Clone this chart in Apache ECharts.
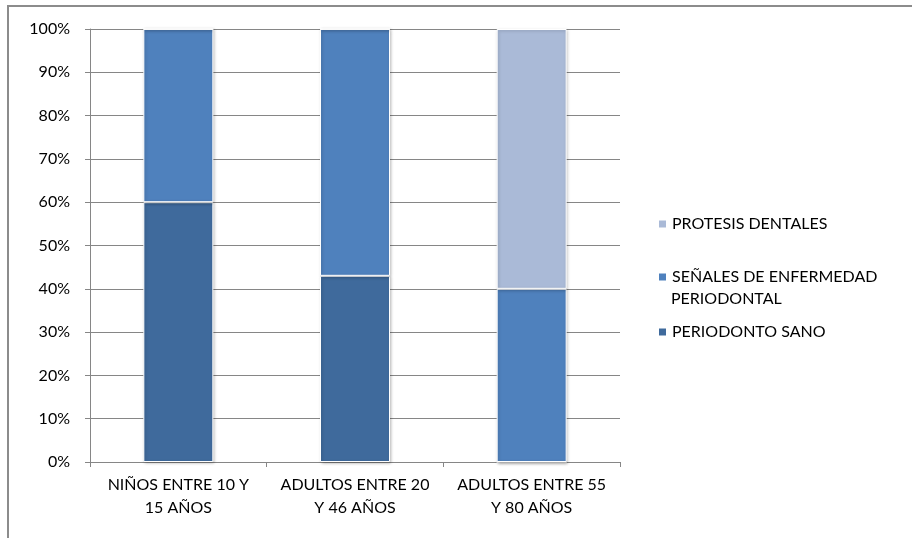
<!DOCTYPE html>
<html>
<head>
<meta charset="utf-8">
<script src="https://cdn.jsdelivr.net/npm/echarts@6/dist/echarts.min.js"></script>
<style>
html,body{margin:0;padding:0;background:#fff;}
#wrap{position:relative;width:912px;height:538px;overflow:hidden;}
#chart{width:912px;height:538px;}
#frame{position:absolute;left:7px;top:5px;width:920px;height:560px;border-top:2px solid #8c8c8c;border-left:2px solid #8c8c8c;pointer-events:none;box-sizing:border-box;}
</style>
</head>
<body>
<div id="wrap"><div id="chart"></div><div id="frame"></div></div>
<script>
const categories = ['NIÑOS ENTRE 10 Y\n15 AÑOS', 'ADULTOS ENTRE 20\nY 46 AÑOS', 'ADULTOS ENTRE 55\nY 80 AÑOS'];
const sano = [60, 43, 0];
const senales = [40, 57, 40];
const protesis = [0, 0, 60];
const yTicks = [0, 10, 20, 30, 40, 50, 60, 70, 80, 90, 100];

const FONT = 'Lato';
const FS = 16;
const chart = echarts.init(document.getElementById('chart'), null, {renderer: 'canvas'});
const barStyle = (c) => ({color: c, borderColor: '#ffffff', borderWidth: 1,
  shadowColor: 'rgba(0,0,0,0.25)', shadowBlur: 3, shadowOffsetX: 1, shadowOffsetY: 1});
const legendBase = {
  orient: 'vertical', left: 652, itemWidth: 9, itemHeight: 9, itemGap: 10,
  icon: 'rect', selectedMode: false,
  textStyle: {fontFamily: FONT, fontSize: FS, color: '#000'}
};
chart.setOption({
  animation: false,
  backgroundColor: '#fff',
  textStyle: {fontFamily: FONT},
  grid: {left: 90, right: 292, top: 29, bottom: 76, containLabel: false},
  legend: [
    Object.assign({}, legendBase, {top: 211, data: ['PROTESIS DENTALES']}),
    Object.assign({}, legendBase, {top: 264, data: ['SEÑALES DE ENFERMEDAD PERIODONTAL'],
      formatter: () => 'SEÑALES DE ENFERMEDAD'}),
    Object.assign({}, legendBase, {top: 319, data: ['PERIODONTO SANO']})
  ],
  graphic: [
    {type: 'text', x: 671, y: 291,
     style: {text: 'PERIODONTAL', font: FS + 'px ' + FONT, fill: '#000'}}
  ],
  xAxis: {
    type: 'category', data: categories, boundaryGap: true,
    axisLine: {show: true, lineStyle: {color: '#868686', width: 1}},
    axisTick: {show: true, length: 5, lineStyle: {color: '#868686'}},
    axisLabel: {color: '#000', fontSize: FS, fontFamily: FONT, lineHeight: 23, margin: 11, interval: 0}
  },
  yAxis: {
    type: 'value', min: 0, max: 100, interval: 10,
    axisLine: {show: true, lineStyle: {color: '#868686', width: 1}},
    axisTick: {show: true, length: 5, lineStyle: {color: '#868686'}},
    splitLine: {show: true, lineStyle: {color: '#868686', width: 1}},
    axisLabel: {color: '#000', fontSize: FS, fontFamily: FONT, margin: 20,
      formatter: (v) => yTicks.includes(v) ? v + '%' : ''}
  },
  series: [
    {name: 'PERIODONTO SANO', type: 'bar', stack: 'a', barWidth: 70, data: sano,
     itemStyle: barStyle('#3F6A9C')},
    {name: 'SEÑALES DE ENFERMEDAD PERIODONTAL', type: 'bar', stack: 'a', barWidth: 70, data: senales,
     itemStyle: barStyle('#4F81BD')},
    {name: 'PROTESIS DENTALES', type: 'bar', stack: 'a', barWidth: 70, data: protesis,
     itemStyle: barStyle('#AABAD7')}
  ]
});
</script>
</body>
</html>
